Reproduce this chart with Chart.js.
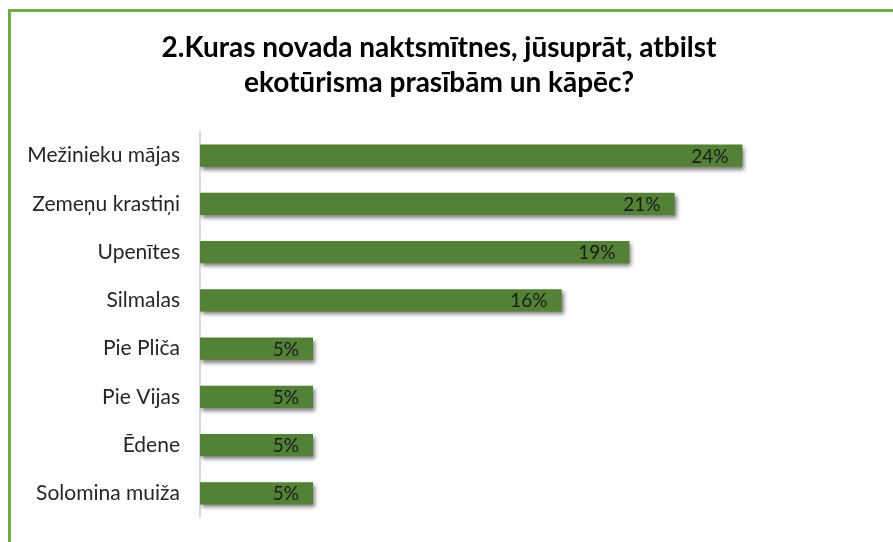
<!DOCTYPE html>
<html lang="lv">
<head>
    <meta charset="UTF-8">
    <title>Ekotūrisms</title>
    <script src="https://cdn.jsdelivr.net/npm/chart.js"></script>
    <style>
        body{ margin:0; background:#fff; }
        .wrap{ position:relative; width:893px; height:542px; }
        .frame{ position:absolute; left:8px; top:9px; right:0; bottom:0;
                border-left:3px solid #70ad47; border-top:3px solid #70ad47; pointer-events:none; }
    </style>
</head>
<body>
<div class="wrap">
    <canvas id="grafiks" width="893" height="542"></canvas>
    <div class="frame"></div>
</div>
<script>
    // dati
    const kategorijas = ['Mežinieku mājas','Zemeņu krastiņi','Upenītes','Silmalas','Pie Pliča','Pie Vijas','Ēdene','Solomina muiža']
    const vertibas = [24, 21, 19, 16, 5, 5, 5, 5]
    const virsraksts = ['2.Kuras novada naktsmītnes, jūsuprāt, atbilst', 'ekotūrisma prasībām un kāpēc?']

    const ena = {
        id: 'ena',
        beforeDatasetsDraw(chart){
            const c = chart.ctx
            c.save()
            c.shadowColor = 'rgba(0,0,0,0.5)'
            c.shadowBlur = 4
            c.shadowOffsetX = 2
            c.shadowOffsetY = 3
        },
        afterDatasetsDraw(chart){
            chart.ctx.restore()
        }
    }

    const etiketes = {
        id: 'etiketes',
        afterDatasetsDraw(chart){
            const c = chart.ctx
            const meta = chart.getDatasetMeta(0)
            c.save()
            c.font = '19px Lato'
            c.fillStyle = '#1a1a1a'
            c.textAlign = 'right'
            c.textBaseline = 'middle'
            meta.data.forEach((bar, i)=>{
                c.fillText(vertibas[i] + '%', bar.x - 14, bar.y + 1)
            })
            c.restore()
        }
    }

    const ctx = document.getElementById('grafiks')
    new Chart(ctx, {
        type: 'bar',
        data: {
            labels: kategorijas,
            datasets: [{
                data: vertibas,
                backgroundColor: '#538135',
                borderWidth: 0,
                categoryPercentage: 1,
                barPercentage: 0.46
            }]
        },
        options: {
            indexAxis: 'y',
            responsive: false,
            animation: false,
            layout: { padding: { left: 0, right: 15, top: 0, bottom: 20 } },
            plugins: {
                legend: { display: false },
                tooltip: { enabled: false },
                title: {
                    display: true,
                    text: virsraksts,
                    color: '#000',
                    font: { family: 'Lato', size: 28, weight: 'bold', lineHeight: 1.26 },
                    padding: { top: 30, bottom: 31 }
                }
            },
            scales: {
                x: { display: false, min: 0, max: 30 },
                y: {
                    grid: { display: false },
                    border: { display: true, color: '#d9d9d9', width: 2 },
                    ticks: { color: '#262626', font: { family: 'Lato', size: 21 }, padding: 12 },
                    afterFit(scale){ scale.width = 200 }
                }
            }
        },
        plugins: [ena, etiketes]
    })
</script>
</body>
</html>
